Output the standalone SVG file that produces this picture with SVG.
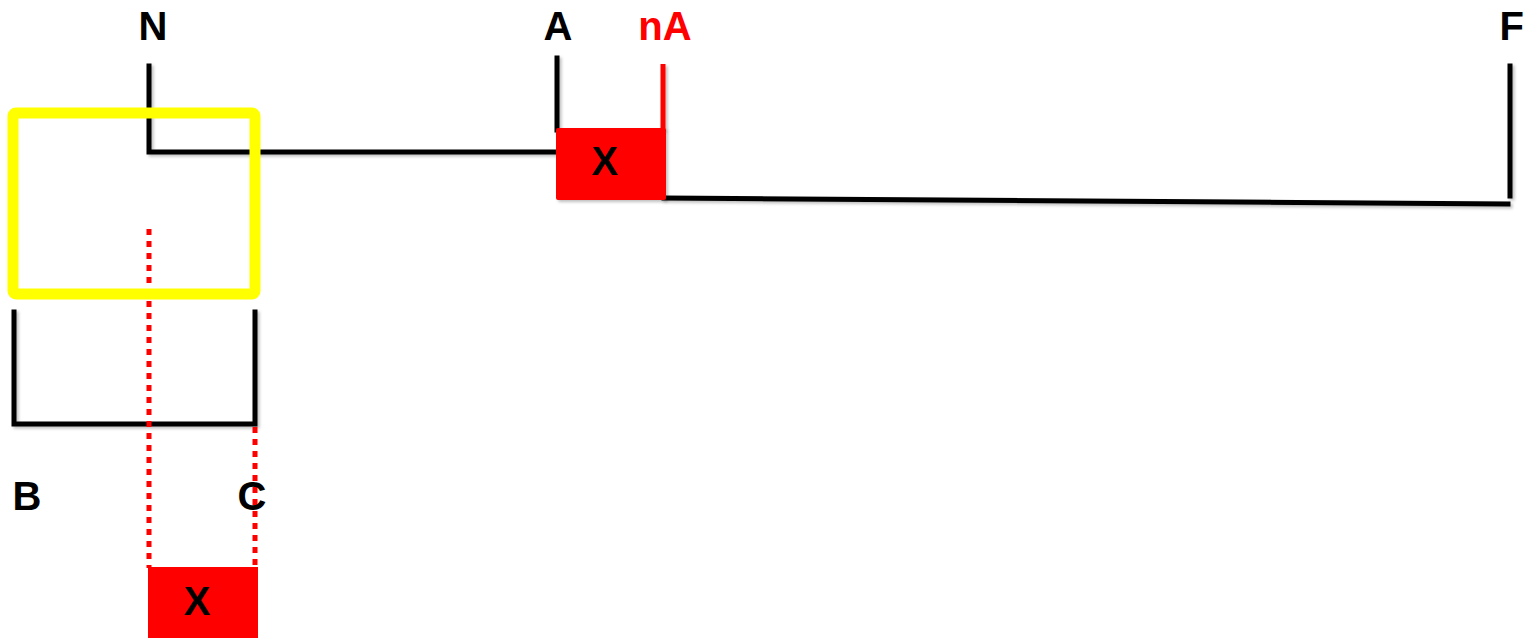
<svg xmlns="http://www.w3.org/2000/svg" width="1525" height="638" viewBox="0 0 1525 638">
<style>
.ln{stroke:#000;stroke-width:5;fill:none;stroke-linecap:square}
.rd{stroke:#f00;stroke-width:5;fill:none}
.dot{stroke:#f00;stroke-width:5;fill:none;stroke-dasharray:6 6}
.lbl{font-family:"Liberation Sans",Arial,sans-serif;font-weight:bold;font-size:40px;text-anchor:middle}
.box{fill:#f00}
</style>
<defs>
<filter id="sh" x="-10%" y="-10%" width="130%" height="130%">
<feDropShadow dx="2" dy="2" stdDeviation="1.5" flood-color="#000" flood-opacity="0.25"/>
</filter>
</defs>
<rect width="1525" height="638" fill="#fff"/>
<g id="connectors" filter="url(#sh)">
<polyline class="ln" points="149,66 149,152 555,152"/>
<line class="ln" x1="557" y1="58" x2="557" y2="130"/>
<line class="rd" x1="663" y1="64" x2="663" y2="130"/>
<line class="ln" x1="664" y1="198" x2="1508" y2="204"/>
<line class="ln" x1="1510" y1="66" x2="1510" y2="196"/>
<polyline class="ln" points="14,312 14,424 255,424 255,312"/>
</g>
<g id="dotted">
<line class="dot" x1="149" y1="229" x2="149" y2="568"/>
<line class="dot" x1="255" y1="427" x2="255" y2="566"/>
</g>
<g id="yellow-box">
<rect x="13" y="113" width="242" height="181" rx="3" fill="none" stroke="#ff0" stroke-width="11"/>
</g>
<g id="node-x-top" filter="url(#sh)">
<rect class="box" x="556" y="128" width="110" height="72" rx="2"/>
<text class="lbl" x="605" y="175" font-size="38">X</text>
</g>
<g id="node-x-bottom">
<rect class="box" x="148" y="567" width="110" height="75"/>
<text class="lbl" x="197" y="615" font-size="38">X</text>
</g>
<g id="labels">
<text class="lbl" x="153" y="40">N</text>
<text class="lbl" x="558" y="40">A</text>
<text class="lbl" x="665" y="40" fill="#f00">nA</text>
<text class="lbl" x="1524" y="40" style="text-anchor:end">F</text>
<text class="lbl" x="27" y="510">B</text>
<text class="lbl" x="252" y="510">C</text>
</g>
</svg>
